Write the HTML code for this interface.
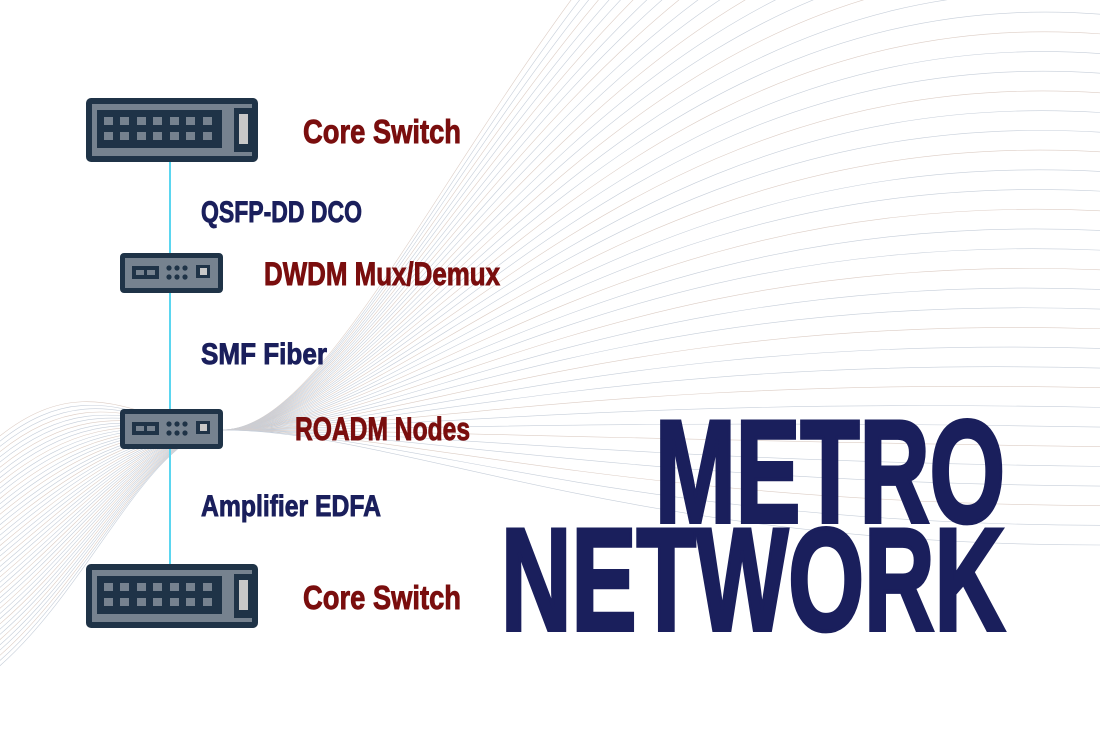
<!DOCTYPE html>
<html><head><meta charset="utf-8"><style>
html,body{margin:0;padding:0;background:#fff;}
svg{display:block;}
.t{font-family:"Liberation Sans Narrow","Liberation Sans",sans-serif;font-weight:bold;}
</style></head><body>
<svg id="s" width="1100" height="735" viewBox="0 0 1100 735" xmlns="http://www.w3.org/2000/svg">
<g id="curves" fill="none" stroke-width="0.6"></g>
<line x1="170" y1="160" x2="170" y2="566" stroke="#5bd6f0" stroke-width="2"/>
<g id="bs1">
<rect x="86" y="98" width="172" height="64" rx="5" fill="#1f3347"/>
<rect x="92" y="104" width="160" height="52" fill="#76828f"/>
<rect x="97" y="110" width="125" height="38" fill="#1f3347"/>
<g fill="#76828f">
<rect x="104" y="117" width="9" height="8"/><rect x="120" y="117" width="9" height="8"/><rect x="137" y="117" width="9" height="8"/><rect x="153" y="117" width="9" height="8"/><rect x="170" y="117" width="9" height="8"/><rect x="186" y="117" width="9" height="8"/><rect x="203" y="117" width="9" height="8"/>
<rect x="104" y="132" width="9" height="8"/><rect x="120" y="132" width="9" height="8"/><rect x="137" y="132" width="9" height="8"/><rect x="153" y="132" width="9" height="8"/><rect x="170" y="132" width="9" height="8"/><rect x="186" y="132" width="9" height="8"/><rect x="203" y="132" width="9" height="8"/>
</g>
<rect x="234" y="108" width="18" height="44" fill="#1f3347"/>
<rect x="239" y="114" width="9" height="30" fill="#c8c8c8"/>
</g>
<g id="sm">
<rect x="120" y="253" width="103" height="40" rx="4" fill="#1f3347"/>
<rect x="125" y="258" width="93" height="30" fill="#76828f"/>
<rect x="132" y="266" width="27" height="13" fill="#1f3347"/>
<rect x="136" y="270" width="8" height="5" fill="#76828f"/><rect x="147" y="270" width="8" height="5" fill="#76828f"/>
<circle cx="169" cy="268" r="2.6" fill="#1f3347"/><circle cx="177" cy="268" r="2.6" fill="#1f3347"/><circle cx="185" cy="268" r="2.6" fill="#1f3347"/>
<circle cx="169" cy="277" r="2.6" fill="#1f3347"/><circle cx="177" cy="277" r="2.6" fill="#1f3347"/><circle cx="185" cy="277" r="2.6" fill="#1f3347"/>
<rect x="196" y="265" width="14" height="13" fill="#1f3347"/><rect x="200" y="268" width="7" height="7" fill="#c8c8c8"/>
</g>
<use href="#sm" y="156"/>
<use href="#bs1" y="466"/>
<g stroke-width="0.9">
<text class="t" x="303" y="143" font-size="33" fill="#7a0e0e" stroke="#7a0e0e" textLength="158" lengthAdjust="spacingAndGlyphs">Core Switch</text>
<text class="t" x="303" y="609" font-size="33" fill="#7a0e0e" stroke="#7a0e0e" textLength="158" lengthAdjust="spacingAndGlyphs">Core Switch</text>
<text class="t" x="264" y="285" font-size="32" fill="#7a0e0e" stroke="#7a0e0e" textLength="236" lengthAdjust="spacingAndGlyphs">DWDM Mux/Demux</text>
<text class="t" x="295" y="440" font-size="32" fill="#7a0e0e" stroke="#7a0e0e" textLength="175" lengthAdjust="spacingAndGlyphs">ROADM Nodes</text>
<text class="t" x="201" y="222" font-size="30" fill="#1a1f5c" stroke="#1a1f5c" textLength="161" lengthAdjust="spacingAndGlyphs">QSFP-DD DCO</text>
<text class="t" x="201" y="364" font-size="30" fill="#1a1f5c" stroke="#1a1f5c" textLength="126" lengthAdjust="spacingAndGlyphs">SMF Fiber</text>
<text class="t" x="201" y="516" font-size="30" fill="#1a1f5c" stroke="#1a1f5c" textLength="180" lengthAdjust="spacingAndGlyphs">Amplifier EDFA</text>
</g>
<text class="t" x="655" y="522" font-size="146" fill="#1a1f5c" stroke="#1a1f5c" stroke-width="4" textLength="350" lengthAdjust="spacingAndGlyphs">METRO</text>
<text class="t" x="501" y="630" font-size="146" fill="#1a1f5c" stroke="#1a1f5c" stroke-width="4" textLength="504" lengthAdjust="spacingAndGlyphs">NETWORK</text>
</svg>
<script>
var g=document.getElementById('curves'),ns='http://www.w3.org/2000/svg';
var N=45;
for(var i=0;i<N;i++){
 var f=i/(N-1);
 var ye=-380+f*925;
 var yl=440+f*230;
 var p=document.createElementNS(ns,'path');
 p.setAttribute('d','M -5 '+yl+' C 90 '+(yl-80)+', 150 430, 222 430 C 400 430, 620 '+ye+', 1100 '+(ye+(1-f)*60));
 p.setAttribute('stroke',(i%3==0)?'#dccdc5':'#c6ced9');
 g.appendChild(p);
}
</script>
</body></html>
